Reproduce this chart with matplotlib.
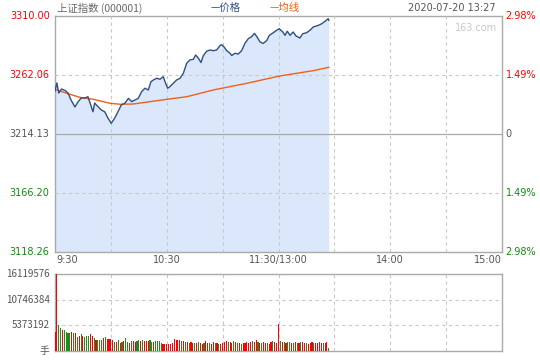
import matplotlib
matplotlib.use("Agg")
import matplotlib.pyplot as plt
import numpy as np

# ---------------- data ----------------
title_text = "上证指数 (000001)"
date_text = "2020-07-20 13:27"
pre_close = 3214.13
y_top = 3310.00
y_bottom = 3118.26
price_labels = ["3310.00", "3262.06", "3214.13", "3166.20", "3118.26"]
pct_labels = ["2.98%", "1.49%", "0", "1.49%", "2.98%"]
x_tick_labels = ["9:30", "10:30", "11:30/13:00", "14:00", "15:00"]
x_tick_minutes = [0, 60, 120, 180, 240]
vol_max = 16119576
vol_labels = ["16119576", "10746384", "5373192", "手"]

price_min = [0, 1, 2, 3.5, 5.4, 7, 8.6, 10.7, 12.3, 14.1, 16, 17.7, 19.5, 20.4, 21.3,
             23.1, 24.9, 26.7, 28.5, 30.2, 32, 33.8, 35.6, 37.6, 39.4, 41.2, 43, 44.7,
             46.5, 48.3, 50.1, 51.5, 52.8, 54.6, 56.4, 58.1, 59.4, 60.5, 61.7, 63.5,
             65.3, 67.1, 68.9, 70.7, 72.5, 74.3, 75.5, 76.9, 78.4, 79.6, 81.4, 83.2,
             85, 86.8, 88.6, 89.5, 90.9, 92.2, 94, 94.9, 96.6, 98.4, 100.2, 102,
             103.8, 105.6, 107.1, 108.5, 110.1, 111.8, 113.7, 115.1, 117.2, 119,
             120.4, 122.3, 123.5, 124.7, 126.2, 127.9, 129.4, 130.6, 131.5, 133,
             135.1, 136.9, 138.7, 141.4, 143.2, 145, 146.7, 147]
price_val = [3249.0, 3255.6, 3247.4, 3250.7, 3249.5, 3247.4, 3241.8, 3236.1, 3240.1,
             3243.4, 3243.4, 3244.4, 3236.3, 3232.2, 3239.3, 3236.3, 3233.6, 3232.2,
             3226.9, 3222.8, 3226.9, 3232.2, 3237.7, 3239.3, 3243.1, 3240.4, 3241.8,
             3243.1, 3248.5, 3251.3, 3249.9, 3256.6, 3258.0, 3259.4, 3258.6, 3260.7,
             3255.3, 3251.3, 3252.6, 3255.3, 3258.0, 3259.4, 3263.4, 3271.6, 3274.3,
             3274.8, 3278.3, 3275.9, 3272.2, 3277.7, 3281.3, 3282.4, 3281.8, 3282.4,
             3286.0, 3286.7, 3284.6, 3281.8, 3279.7, 3277.9, 3279.7, 3279.1, 3281.8,
             3287.8, 3291.6, 3293.2, 3295.9, 3292.9, 3288.9, 3287.7, 3290.1, 3294.3,
             3296.4, 3298.4, 3299.7, 3297.0, 3294.3, 3297.6, 3294.3, 3297.0, 3293.8,
             3292.9, 3292.1, 3295.6, 3296.4, 3298.4, 3301.1, 3302.4, 3303.7, 3305.7,
             3307.8, 3306.5]

avg_min = [0, 6.3, 13.4, 20.6, 29.5, 34.9, 42, 51, 60, 70.7, 85, 102.9, 120.8, 138.7, 147]
avg_val = [3250.4, 3247.2, 3243.9, 3242.3, 3239.1, 3238.3, 3238.5, 3240.4, 3242.3,
           3244.4, 3249.9, 3255.3, 3261.3, 3265.6, 3268.3]

volume = [3.97, 16.12, 5.4, 4.9, 4.5, 4.5, 4.0, 3.8, 3.8, 4.0, 3.7, 3.8, 3.0, 3.1, 3.5,
          3.1, 3.0, 3.1, 3.1, 3.5, 3.1, 2.8, 2.3, 2.4, 2.4, 2.4, 2.8, 3.0, 2.6, 2.6,
          2.6, 2.4, 1.9, 1.9, 2.2, 1.7, 1.9, 2.0, 2.8, 1.9, 1.7, 2.0, 2.1, 1.9, 2.0,
          2.4, 2.1, 2.2, 2.1, 2.0, 2.0, 2.4, 1.9, 1.9, 2.0, 2.0, 2.0, 1.6, 1.5, 1.5,
          1.5, 1.5, 1.5, 1.7, 2.6, 2.4, 2.3, 2.2, 2.0, 2.0, 1.9, 1.8, 1.7, 1.8, 1.7,
          1.6, 1.7, 1.8, 1.6, 1.5, 1.6, 2.0, 1.7, 1.6, 1.5, 1.8, 1.7, 1.6, 1.5, 1.4,
          1.6, 1.9, 2.0, 1.9, 1.8, 1.7, 2.1, 1.8, 1.7, 1.6, 1.5, 1.7, 1.6, 1.8, 1.7,
          1.9, 2.0, 1.8, 2.2, 1.9, 1.7, 1.6, 1.8, 1.7, 1.6, 1.5, 1.9, 2.1, 1.8, 1.7,
          5.7, 2.0, 1.8, 1.9, 1.7, 1.8, 1.9, 1.7, 1.6, 1.8, 1.7, 1.6, 1.8, 1.9, 1.7,
          1.6, 1.5, 1.7, 1.8, 1.7, 1.6, 1.7, 1.8, 1.7, 1.6, 1.7, 1.8, 0.6]
vol_up = [1, 1, 0, 0, 1, 0, 0, 0, 0, 1, 0, 1, 0, 1, 0, 1, 0, 0, 0, 1, 1, 0, 1, 0, 0,
          0, 1, 0, 1, 1, 1, 1, 0, 1, 0, 1, 0, 1, 0, 0, 1, 0, 1, 1, 0, 0, 1, 0, 1, 1,
          1, 0, 0, 1, 0, 0, 0, 0, 1, 1, 1, 1, 1, 1, 1, 1, 1, 1, 0, 1, 0, 1, 0, 1, 1,
          0, 1, 0, 1, 1, 0, 1, 1, 0, 1, 1, 0, 1, 0, 1, 1, 1, 1, 0, 1, 1, 0, 1, 0, 1,
          0, 1, 1, 1, 1, 1, 0, 1, 1, 0, 1, 0, 1, 1, 0, 1, 1, 0, 1, 1,
          1, 0, 1, 0, 1, 0, 0, 1, 0, 1, 0, 1, 0, 1, 1, 0, 1, 1, 1, 0, 1, 1, 1, 1,
          0, 1, 1, 0]

# ---------------- style ----------------
C_TEXT = "#555555"
C_RED = "#ff0000"
C_GREEN = "#108a10"
C_VGREEN = "#1e8c1e"
C_BLUE = "#2f4f80"
C_ORANGE = "#f06018"
C_FILL = "#dbe7fb"
C_GRID = "#c8c8c8"
C_BORDER = "#aaaaaa"
FS = 7
FAM = ["Noto Sans CJK SC", "DejaVu Sans"]

plt.rcParams["font.family"] = ["DejaVu Sans", "Noto Sans CJK SC"]

W, H = 540, 360
fig = plt.figure(figsize=(5.4, 3.6), dpi=100)
fig.patch.set_facecolor("white")

def fx(px):
    return px / W

def fy(py):
    return 1 - py / H

L, R = 55, 502
ax = fig.add_axes([fx(L), fy(252), fx(R - L), (252 - 16) / H])
axv = fig.add_axes([fx(L), fy(351), fx(R - L), (351 - 274) / H])

for a in (ax, axv):
    a.set_xlim(0, 240)
    for s in a.spines.values():
        s.set_color(C_BORDER)
        s.set_linewidth(1.0)
    a.set_xticks([])
    a.set_yticks([])
    for m in range(30, 240, 30):
        a.axvline(m, color=C_GRID, lw=0.8, ls=(0, (3, 3)), zorder=3)

# main price chart
ax.set_ylim(y_bottom, y_top)
ax.fill_between(price_min, price_val, y_bottom, color=C_FILL, lw=0, zorder=1)
ax.plot(price_min, price_val, color=C_BLUE, lw=1.0, zorder=5)
ax.plot(avg_min, avg_val, color=C_ORANGE, lw=1.0, zorder=4)
levels = np.linspace(y_top, y_bottom, 5)
for i, lv in enumerate(levels):
    if i == 2:
        ax.axhline(lv, color=C_BORDER, lw=0.9, zorder=3)
    elif i in (1, 3):
        ax.axhline(lv, color=C_GRID, lw=0.8, ls=(0, (3, 3)), zorder=3)
label_colors = [C_RED, C_RED, C_TEXT, C_GREEN, C_GREEN]
for lv, lab, pl, col in zip(levels, price_labels, pct_labels, label_colors):
    ax.text(-0.012, lv, lab, transform=ax.get_yaxis_transform(), ha="right",
            va="center", fontsize=FS, color=col)
    ax.text(1.008, lv, pl, transform=ax.get_yaxis_transform(), ha="left",
            va="center", fontsize=FS, color=col)

# x tick labels
for m, lab in zip(x_tick_minutes, x_tick_labels):
    ha = "center"
    xx = m
    if m == 0:
        ha = "left"; xx = 1
    elif m == 240:
        ha = "right"
    ax.text(xx, -0.012, lab, transform=ax.get_xaxis_transform(), ha=ha, va="top",
            fontsize=FS, color=C_TEXT)

ax.text(0.99, 0.972, "163.com", transform=ax.transAxes, ha="right", va="top",
        fontsize=FS, color="#c8c8c8")

# header
fig.text(fx(57), fy(8), title_text, ha="left", va="center", fontsize=7.5,
         color="#666666", family=FAM)
fig.text(fx(211), fy(8), "—价格", ha="left", va="center", fontsize=7.5,
         color=C_BLUE, family=FAM)
fig.text(fx(270), fy(8), "—均线", ha="left", va="center", fontsize=7.5,
         color=C_ORANGE, family=FAM)
fig.text(fx(496), fy(8), date_text, ha="right", va="center", fontsize=FS,
         color=C_TEXT)

# volume chart
vol_x = np.arange(len(volume))
vol_vals = np.array(volume) * 1e6
cols = [C_RED if u else C_VGREEN for u in vol_up]
axv.set_ylim(0, vol_max)
axv.bar(vol_x, vol_vals, width=0.6, color=cols, lw=0, zorder=4, align="center")
for k in (1, 2):
    axv.axhline(vol_max * k / 3, color=C_GRID, lw=0.8, ls=(0, (3, 3)), zorder=3)
for k, lab in zip((3, 2, 1, 0), vol_labels):
    axv.text(-0.012, vol_max * k / 3, lab, transform=axv.get_yaxis_transform(),
             ha="right", va="center", fontsize=FS, color=C_TEXT, family=FAM)

fig.savefig("out.png", dpi=100, facecolor="white")
